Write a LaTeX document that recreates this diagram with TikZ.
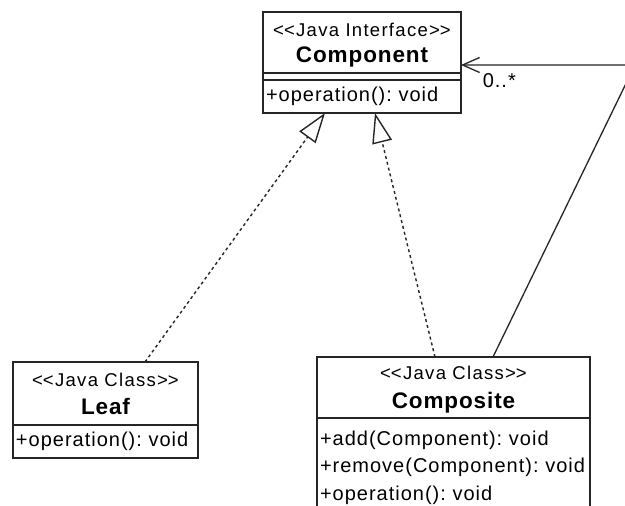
\documentclass[tikz,border=0pt]{standalone}
\usepackage{fontspec}
\setmainfont{Liberation Sans}
\usetikzlibrary{arrows.meta}
\frenchspacing
\newcommand{\umlcolor}{black!85}
\newcommand{\umlline}{1.4pt}
\newcommand{\stereo}[1]{{\fontsize{18.5}{27}\selectfont\addfontfeature{LetterSpace=7}<\kern0pt<#1>\kern0pt>}}
\newcommand{\classname}[1]{{\fontsize{22.5}{27}\selectfont\bfseries\addfontfeature{LetterSpace=4}#1}}
\tikzset{
  compartment/.style={draw=\umlcolor, line width=\umlline, fill=white, inner sep=0pt, outer sep=0pt},
  titlebox/.style={compartment, align=center, font=\fontsize{18.5}{27}\selectfont},
  opstext/.style={font=\fontsize{20}{27.5}\selectfont\addfontfeature{LetterSpace=5}},
  opsbox/.style={compartment, opstext, align=left, inner xsep=3pt},
  realize/.style={draw=\umlcolor, line width=1.4pt, dash pattern=on 3pt off 3pt, -{Triangle[open, length=30pt, width=20pt]}},
  assoc/.style={draw=\umlcolor, line width=1.3pt, -{Straight Barb[length=17pt, width=15pt]}}
}

\begin{document}
\begin{tikzpicture}[x=1pt, y=-1pt]
\clip (0,0) rectangle (625,506);
\fill[white] (0,0) rectangle (625,506);
% Component
\node[titlebox, minimum width=198pt, minimum height=61pt, text depth=-3pt] (comp) at (362,42.5) {\stereo{Java Interface}\\[-1pt]\classname{Component}};
\node[compartment, minimum width=198pt, minimum height=7pt] (compattr) at (362,76.5) {};
\node[opsbox, text width=192pt, minimum height=33pt] (compops) at (362,96.5) {+operation(): void};
% Leaf
\node[titlebox, minimum width=185pt, minimum height=63pt] (leaf) at (105.5,393.5) {\stereo{Java Class}\\[1pt]\classname{Leaf}};
\node[opsbox, text width=179pt, minimum height=33pt] (leafops) at (105.5,441.5) {+operation(): void};
% Composite
\node[titlebox, minimum width=273pt, minimum height=61pt, text depth=1pt] (compo) at (453.5,387.5) {\stereo{Java Class}\\[2pt]\classname{Composite}};
\node[opsbox, text width=267pt, minimum height=94pt, text height=20pt] (compoops) at (453.5,465) {+add(Component): void\\+remove(Component): void\\+operation(): void};
% connectors
\coordinate (bend) at (635,65);
\draw[realize] ([xshift=39.5pt]leaf.north) -- ([xshift=-37pt]compops.south);
\draw[realize] ([xshift=-18.5pt]compo.north) -- ([xshift=13pt]compops.south);
\draw[assoc] ([xshift=39.5pt]compo.north) -- (bend) -- ([yshift=-22.5pt]comp.east)
  node[pos=0.78, below=5pt, opstext] (mult) {0..*};
\end{tikzpicture}
\end{document}
